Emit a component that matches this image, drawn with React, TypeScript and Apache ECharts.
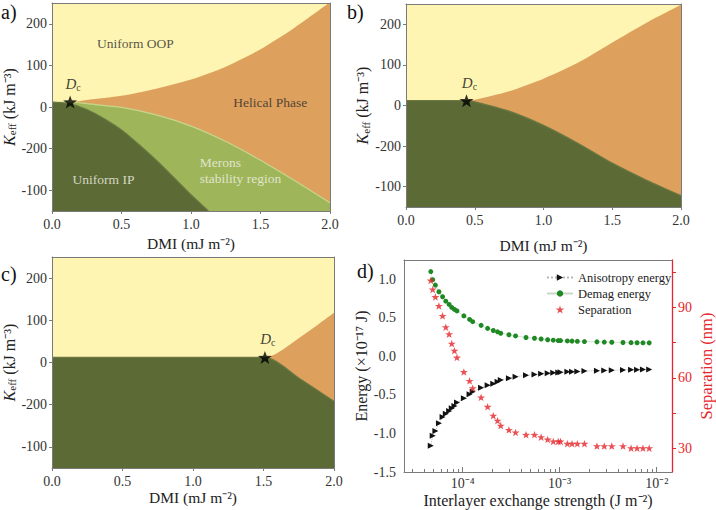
import React, { useEffect, useRef } from 'react';
import * as echarts from 'echarts';

const FONT = 'Liberation Serif, Times New Roman, serif';
const YELLOW = '#FEF5B3';
const ORANGE = '#DEA05D';
const LIGHT_GREEN = '#9EB55A';
const DARK_GREEN = '#5C6A35';
const AXIS_GREY = '#7a7a7a';
const TEXT = '#222';
const LABEL = '#333';
const RED = '#E5262B';

// ---------- Panel a ----------
const aUpperD = [0, 0.13, 0.25, 0.5, 0.75, 1.0, 1.25, 1.5, 1.75, 2.0];
const aUpperK = [12, 12, 17, 27, 44, 66, 97, 139, 192, 252];
const aMeronD = [0, 0.13, 0.25, 0.5, 0.75, 1.0, 1.25, 1.5, 1.75, 2.0];
const aMeronK = [12, 12, 8, -1, -19, -46, -83, -128, -178, -230];
const aIpD = [0, 0.125, 0.25, 0.375, 0.5, 0.625, 0.75, 0.875, 1.0, 1.125];
const aIpK = [12, 8, -6, -28, -55, -90, -128, -169, -211, -250];
const aDc = [0.13, 12];

// ---------- Panel b ----------
const bUpperD = [0, 0.44, 0.5, 0.75, 1.0, 1.25, 1.5, 1.75, 2.0];
const bUpperK = [12, 12, 14, 35, 66, 105, 155, 204, 248];
const bLowerD = [0, 0.44, 0.5, 0.75, 1.0, 1.25, 1.5, 1.75, 2.0];
const bLowerK = [12, 12, 9, -14, -49, -93, -142, -184, -222];
const bDc = [0.44, 12];

// ---------- Panel c ----------
const cUpperD = [0, 1.51, 1.76, 2.0];
const cUpperK = [12, 12, 60, 118];
const cLowerD = [0, 1.51, 1.76, 2.0];
const cLowerK = [12, 12, -39, -92];
const cDc = [1.51, 12];

// axis ticks (as printed in the figure)
const kTickValues = [-200, -100, 0, 100, 200];
const kTickLabels = ['-100', '-200', '0', '100', '200'];

// ---------- Panel d ----------
const dJ = [4.70e-5, 4.92e-5, 5.24e-5, 5.70e-5, 6.22e-5, 6.71e-5, 7.26e-5, 7.73e-5, 8.24e-5, 8.75e-5,
  1.03e-4, 1.18e-4, 1.27e-4, 1.55e-4, 1.81e-4, 2.07e-4, 2.29e-4, 2.47e-4, 3.0e-4, 3.51e-4,
  4.5e-4, 5.5e-4, 6.44e-4, 7.52e-4, 8.59e-4, 9.66e-4, 1.02e-3, 1.2e-3, 1.34e-3, 1.52e-3,
  1.80e-3, 2.42e-3, 2.88e-3, 3.44e-3, 4.49e-3, 5.44e-3, 6.27e-3, 7.21e-3, 8.36e-3];
const dAniso = [-1.16, -1.03, -0.967, -0.868, -0.786, -0.743, -0.708, -0.674, -0.643, -0.600,
  -0.544, -0.492, -0.458, -0.406, -0.376, -0.354, -0.328, -0.307, -0.285, -0.263,
  -0.246, -0.235, -0.225, -0.218, -0.212, -0.208, -0.205, -0.200, -0.198, -0.195,
  -0.190, -0.185, -0.182, -0.180, -0.177, -0.175, -0.173, -0.172, -0.170];
const dDemag = [1.10, 0.995, 0.924, 0.838, 0.773, 0.716, 0.674, 0.635, 0.609, 0.590,
  0.525, 0.479, 0.450, 0.402, 0.363, 0.335, 0.318, 0.300, 0.280, 0.265,
  0.245, 0.235, 0.225, 0.215, 0.210, 0.205, 0.205, 0.200, 0.198, 0.195,
  0.192, 0.188, 0.185, 0.183, 0.180, 0.178, 0.177, 0.176, 0.175];
const dSep = [101.3, 97.5, 94.3, 90.5, 86.3, 81.5, 78.5, 74.5, 71.5, 68.6,
  62.5, 58.7, 55.6, 51.7, 47.7, 43.9, 41.8, 39.7, 37.9, 36.8,
  35.8, 35.8, 34.8, 33.8, 33.0, 33.0, 33.0, 32.0, 32.0, 32.0,
  32.0, 31.0, 31.0, 31.0, 31.0, 30.1, 30.1, 30.1, 30.1];
const dMajorTicks = [1e-4, 1e-3, 1e-2];
const dMajorLabels = ['10⁻⁴', '10⁻³', '10⁻²'];
const dMinorTicks = [3e-5, 4e-5, 5e-5, 6e-5, 7e-5, 8e-5, 9e-5,
  2e-4, 3e-4, 4e-4, 5e-4, 6e-4, 7e-4, 8e-4, 9e-4,
  2e-3, 3e-3, 4e-3, 5e-3, 6e-3, 7e-3, 8e-3, 9e-3];
const dEnergyTicks = [-1.5, -1.0, -0.5, 0, 0.5, 1.0];
const dSepLabels = [30, 60, 90];
const dSepTicks = [30, 45, 60, 75, 90, 105];

const STAR = 'path://M0,-10L2.35,-3.24L9.51,-3.09L3.8,1.24L5.88,8.09L0,4L-5.88,8.09L-3.8,1.24L-9.51,-3.09L-2.35,-3.24Z';

const pairs = (xs: number[], ys: number[]) => xs.map((x, i) => [x, ys[i]]);

const grids = [
  { left: 50, top: 3, width: 280, height: 208 },
  { left: 406, top: 4, width: 275, height: 203 },
  { left: 51, top: 257, width: 283, height: 211 },
  { left: 404, top: 260, width: 272, height: 212 },
];

function dmiAxis(gridIndex: number, nameGap: number) {
  return {
    type: 'value', gridIndex, min: 0, max: 2, interval: 0.5, position: 'bottom',
    name: 'DMI (mJ m⁻²)', nameLocation: 'middle', nameGap,
    nameTextStyle: { fontFamily: FONT, fontSize: 15.5, color: TEXT },
    axisLine: { show: true, onZero: false, lineStyle: { color: AXIS_GREY } },
    axisTick: { show: true, inside: false, length: 3, lineStyle: { color: AXIS_GREY } },
    axisLabel: { fontFamily: FONT, fontSize: 14, color: LABEL, margin: 6, formatter: (v: number) => v.toFixed(1) },
    splitLine: { show: false }, z: 10,
  };
}

function kAxis(gridIndex: number, nameGap: number) {
  return {
    type: 'value', gridIndex, min: -250, max: 250, position: 'left',
    name: '{i|K}{sub|eff} (kJ m⁻³)', nameLocation: 'middle', nameGap, nameRotate: 90,
    nameTextStyle: {
      fontFamily: FONT, fontSize: 16, color: TEXT,
      rich: {
        i: { fontFamily: FONT, fontSize: 16, fontStyle: 'italic', color: TEXT },
        sub: { fontFamily: FONT, fontSize: 11, color: TEXT, padding: [6, 0, 0, 0] },
      },
    },
    axisLine: { show: true, onZero: false, lineStyle: { color: AXIS_GREY } },
    axisTick: { show: true, inside: false, length: 3, customValues: kTickValues, lineStyle: { color: AXIS_GREY } },
    axisLabel: {
      fontFamily: FONT, fontSize: 14, color: LABEL, margin: 5, customValues: kTickValues,
      formatter: (v: number) => {
        const i = kTickValues.indexOf(Math.round(v));
        return i >= 0 ? kTickLabels[i] : '';
      },
    },
    splitLine: { show: false }, z: 10,
  };
}

function borderAxis(kind: 'x' | 'y', gridIndex: number) {
  return {
    type: 'value', gridIndex, min: 0, max: 1, position: kind === 'x' ? 'top' : 'right',
    axisLine: { show: true, onZero: false, lineStyle: { color: AXIS_GREY } },
    axisTick: { show: false }, axisLabel: { show: false }, splitLine: { show: false }, z: 10,
  };
}

function areaSeries(xi: number, yi: number, data: number[][], color: string, z: number, line?: string) {
  return {
    type: 'line', xAxisIndex: xi, yAxisIndex: yi, data, smooth: 0.25, symbol: 'none', z,
    lineStyle: line ? { color: line, width: 1.2 } : { width: 0, opacity: 0 },
    areaStyle: { color, opacity: 1, origin: 'start' },
    silent: true,
  };
}

const dcRich = {
  i: { fontFamily: FONT, fontSize: 15, fontStyle: 'italic', color: '#111' },
  s: { fontFamily: FONT, fontSize: 10, color: '#111', padding: [7, 0, 0, 0] },
};

function dcSeries(xi: number, yi: number, pt: number[]) {
  return {
    type: 'scatter', xAxisIndex: xi, yAxisIndex: yi, data: [pt], z: 20,
    symbol: STAR, symbolSize: [14, 13], itemStyle: { color: '#000' },
    label: { show: true, position: 'top', distance: 3, offset: [3, 0], formatter: '{i|D}{s|c}', rich: dcRich },
    silent: true,
  };
}

function textSeries(xi: number, yi: number, pt: number[], text: string, color: string, pos: string) {
  return {
    type: 'scatter', xAxisIndex: xi, yAxisIndex: yi, data: [pt], z: 20,
    symbolSize: 1, itemStyle: { color: 'transparent' },
    label: {
      show: true, position: pos, distance: 0, formatter: text, color,
      fontFamily: FONT, fontSize: 13.5, lineHeight: 16, align: pos === 'right' ? 'left' : 'center',
    },
    silent: true,
  };
}

function buildOption() {
  const xAxis: any[] = [
    dmiAxis(0, 24),
    dmiAxis(1, 30),
    dmiAxis(2, 21),
    {
      type: 'log', gridIndex: 3, min: 2.49e-5, max: 1.436e-2, position: 'bottom',
      name: 'Interlayer exchange strength (J m⁻²)', nameLocation: 'middle', nameGap: 20,
      nameTextStyle: { fontFamily: FONT, fontSize: 16, color: TEXT },
      axisLine: { show: true, onZero: false, lineStyle: { color: AXIS_GREY } },
      axisTick: { show: true, inside: true, length: 5, customValues: dMajorTicks, lineStyle: { color: AXIS_GREY } },
      axisLabel: {
        fontFamily: FONT, fontSize: 14, color: LABEL, margin: 4, customValues: dMajorTicks,
        formatter: (v: number) => {
          const e = Math.round(Math.log10(v));
          const i = dMajorTicks.findIndex((t) => Math.round(Math.log10(t)) === e);
          return i >= 0 ? dMajorLabels[i] : '';
        },
      },
      splitLine: { show: false }, z: 10,
    },
    {
      type: 'log', gridIndex: 3, min: 2.49e-5, max: 1.436e-2, position: 'bottom',
      axisLine: { show: false, onZero: false },
      axisTick: { show: true, inside: true, length: 3, customValues: dMinorTicks, lineStyle: { color: AXIS_GREY } },
      axisLabel: { show: false }, splitLine: { show: false }, z: 10,
    },
    borderAxis('x', 0), borderAxis('x', 1), borderAxis('x', 2), borderAxis('x', 3),
  ];
  const yAxis: any[] = [
    kAxis(0, 27),
    kAxis(1, 28),
    kAxis(2, 28),
    {
      type: 'value', gridIndex: 3, min: -1.5, max: 1.25, position: 'left',
      name: 'Energy (×10⁻¹⁷ J)', nameLocation: 'middle', nameGap: 22, nameRotate: 90,
      nameTextStyle: { fontFamily: FONT, fontSize: 16, color: TEXT },
      axisLine: { show: true, onZero: false, lineStyle: { color: AXIS_GREY } },
      axisTick: { show: false },
      axisLabel: {
        fontFamily: FONT, fontSize: 14, color: LABEL, margin: 8, customValues: dEnergyTicks,
        formatter: (v: number) => v.toFixed(1),
      },
      splitLine: { show: false }, z: 10,
    },
    {
      type: 'value', gridIndex: 3, min: 20, max: 110, position: 'right',
      name: 'Separation (nm)', nameLocation: 'middle', nameGap: 26, nameRotate: 90,
      nameTextStyle: { fontFamily: FONT, fontSize: 16.5, color: RED },
      axisLine: { show: true, onZero: false, lineStyle: { color: RED, width: 1.3 } },
      axisTick: { show: true, inside: false, length: 4, customValues: dSepTicks, lineStyle: { color: RED } },
      axisLabel: {
        fontFamily: FONT, fontSize: 14, color: RED, margin: 6, customValues: dSepLabels,
        formatter: (v: number) => String(v),
      },
      splitLine: { show: false }, z: 10,
    },
    borderAxis('y', 0), borderAxis('y', 1), borderAxis('y', 2),
  ];

  const series: any[] = [
    // panel a
    areaSeries(0, 0, pairs(aUpperD, aUpperK), ORANGE, 2),
    areaSeries(0, 0, pairs(aMeronD, aMeronK), LIGHT_GREEN, 3, '#C6D68C'),
    areaSeries(0, 0, pairs(aIpD, aIpK), DARK_GREEN, 4, '#6B7842'),
    dcSeries(0, 0, aDc),
    textSeries(0, 0, [0.6, 153], 'Uniform OOP', '#2a2a2a', 'inside'),
    textSeries(0, 0, [1.57, 12], 'Helical Phase', '#2a2a2a', 'inside'),
    textSeries(0, 0, [0.37, -175], 'Uniform IP', '#F2F2E8', 'inside'),
    textSeries(0, 0, [1.06, -153], 'Merons\nstability region', '#F2F2E8', 'right'),
    // panel b
    areaSeries(1, 1, pairs(bUpperD, bUpperK), ORANGE, 2),
    areaSeries(1, 1, pairs(bLowerD, bLowerK), DARK_GREEN, 4, '#6B7842'),
    dcSeries(1, 1, bDc),
    // panel c
    areaSeries(2, 2, pairs(cUpperD, cUpperK), ORANGE, 2),
    areaSeries(2, 2, pairs(cLowerD, cLowerK), DARK_GREEN, 4, '#6B7842'),
    dcSeries(2, 2, cDc),
    // panel d
    {
      name: 'Anisotropy energy', type: 'line', xAxisIndex: 3, yAxisIndex: 3,
      data: pairs(dJ, dAniso), symbol: 'triangle', symbolRotate: -90, symbolSize: 6,
      itemStyle: { color: '#111' },
      lineStyle: { color: '#b8b8b8', width: 1, type: 'dotted' }, z: 5,
    },
    {
      name: 'Demag energy', type: 'line', xAxisIndex: 3, yAxisIndex: 3,
      data: pairs(dJ, dDemag), symbol: 'circle', symbolSize: 5,
      itemStyle: { color: '#1F8A24' },
      lineStyle: { color: '#c8d8c8', width: 0.8 }, z: 5,
    },
    {
      name: 'Separation', type: 'scatter', xAxisIndex: 3, yAxisIndex: 4,
      data: pairs(dJ, dSep), symbol: STAR, symbolSize: [8, 7.5],
      itemStyle: { color: RED }, z: 6,
    },
  ];

  return {
    animation: false,
    backgroundColor: '#fff',
    textStyle: { fontFamily: FONT },
    grid: grids.map((g, i) => ({
      ...g,
      show: i < 3,
      backgroundColor: YELLOW,
      borderWidth: 0,
      containLabel: false,
    })),
    xAxis,
    yAxis,
    legend: {
      left: 541, top: 266, orient: 'vertical', itemWidth: 26, itemHeight: 8, itemGap: 3,
      textStyle: { fontFamily: 'Liberation Serif', fontSize: 12.5, color: TEXT },
      data: ['Anisotropy energy', 'Demag energy', 'Separation'],
      selectedMode: false,
    },
    graphic: [
      { type: 'text', left: 1, top: 2, style: { text: 'a)', fontFamily: FONT, fontSize: 20, fill: '#111' } },
      { type: 'text', left: 347, top: 2, style: { text: 'b)', fontFamily: FONT, fontSize: 20, fill: '#111' } },
      { type: 'text', left: 1, top: 264, style: { text: 'c)', fontFamily: FONT, fontSize: 20, fill: '#111' } },
      { type: 'text', left: 357, top: 261, style: { text: 'd)', fontFamily: FONT, fontSize: 20, fill: '#111' } },
    ],
    series,
  };
}

export default function App() {
  const ref = useRef<HTMLDivElement>(null);
  useEffect(() => {
    if (!ref.current) return;
    const chart = echarts.init(ref.current, undefined, { renderer: 'svg' });
    chart.setOption(buildOption() as any);
    return () => chart.dispose();
  }, []);
  return (
    <div
      ref={ref}
      style={{ position: 'fixed', left: 0, top: 0, width: 716, height: 510, background: '#fff' }}
    />
  );
}
